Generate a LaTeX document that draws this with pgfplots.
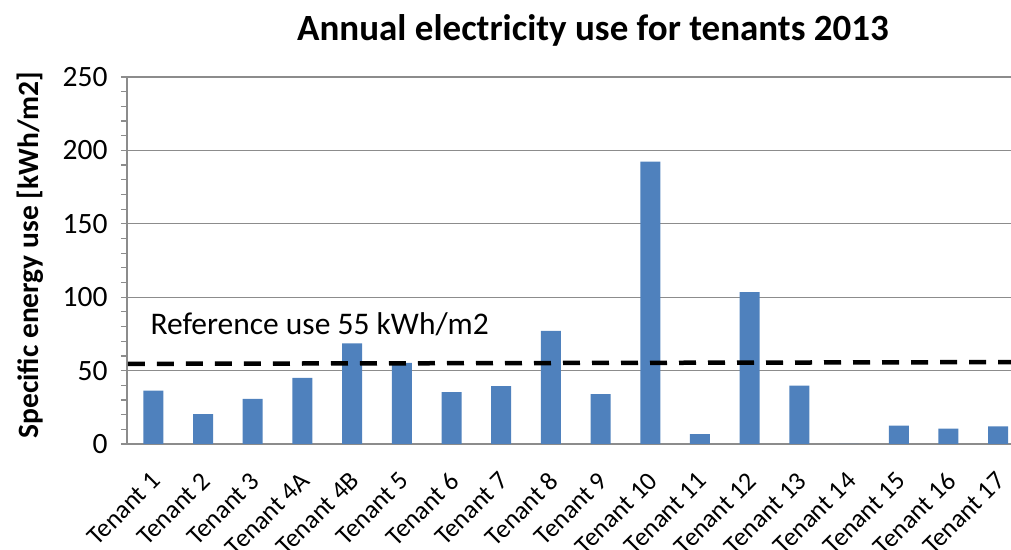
\documentclass[border=0pt]{standalone}
\usepackage{pgfplots}
\pgfplotsset{compat=1.18}
\usepackage{fontspec}
\setmainfont{Carlito}
\definecolor{barblue}{HTML}{4F81BD}
\definecolor{gridgray}{HTML}{8C8C8C}
\begin{document}
\begin{tikzpicture}
\begin{axis}[
  scale only axis,
  width=896pt, height=367pt,
  xmin=-0.53, xmax=17.5,
  ymin=0, ymax=250,
  ytick={0,50,...,250},
  minor ytick={10,20,30,40,60,70,80,90,110,120,130,140,160,170,180,190,210,220,230,240},
  ymajorgrids,
  major grid style={gridgray, line width=1.2pt},
  axis line style={gridgray, line width=1.2pt},
  tick style={gridgray, line width=1.2pt},
  tick align=outside,
  major tick length=6pt, minor tick length=6pt,
  axis x line*=bottom, axis y line*=left,
  xtick={0,...,17},
  xtick style={draw=none},
  xticklabels={Tenant 1,Tenant 2,Tenant 3,Tenant 4A,Tenant 4B,Tenant 5,Tenant 6,Tenant 7,Tenant 8,Tenant 9,Tenant 10,Tenant 11,Tenant 12,Tenant 13,Tenant 14,Tenant 15,Tenant 16,Tenant 17},
  xticklabel style={rotate=45, anchor=north east, font=\fontsize{26}{30}\selectfont, inner sep=1pt, xshift=-16pt, yshift=-11pt},
  yticklabel style={font=\fontsize{29.5}{34}\selectfont, xshift=-10pt},
  /pgf/number format/assume math mode=true,
  clip=false,
]
\addplot[ybar, bar width=20pt, fill=barblue, draw=none] coordinates {
(0,36.3) (1,20.4) (2,30.7) (3,45.0) (4,68.6) (5,55.2) (6,35.4) (7,39.5) (8,77.0)
(9,34.0) (10,192.3) (11,6.8) (12,103.5) (13,39.7) (14,0) (15,12.5) (16,10.4) (17,12.0)
};
\addplot[black, line width=4.5pt, dash pattern=on 17pt off 12pt] coordinates {(-0.51,54.6) (17.5,55.8)};
\node[anchor=base west, font=\fontsize{31.5}{36}\selectfont, inner sep=0pt] at (axis cs:-0.06,74.3) {Reference use 55 kWh/m2};
\coordinate (bl) at (rel axis cs:0,0);
\coordinate (tl) at (rel axis cs:0,1);
\end{axis}
\node[font=\bfseries\fontsize{37}{42}\selectfont] at ([xshift=466pt,yshift=47pt]tl) {Annual electricity use for tenants 2013};
\node[rotate=90, font=\bfseries\fontsize{29.5}{34}\selectfont] at ([xshift=-97pt,yshift=189pt]bl) {Specific energy use [kWh/m2]};
\pgfresetboundingbox
\path[use as bounding box] ([xshift=-127pt,yshift=-106pt]bl) rectangle ([xshift=884pt,yshift=77pt]tl);
\end{tikzpicture}
\end{document}
